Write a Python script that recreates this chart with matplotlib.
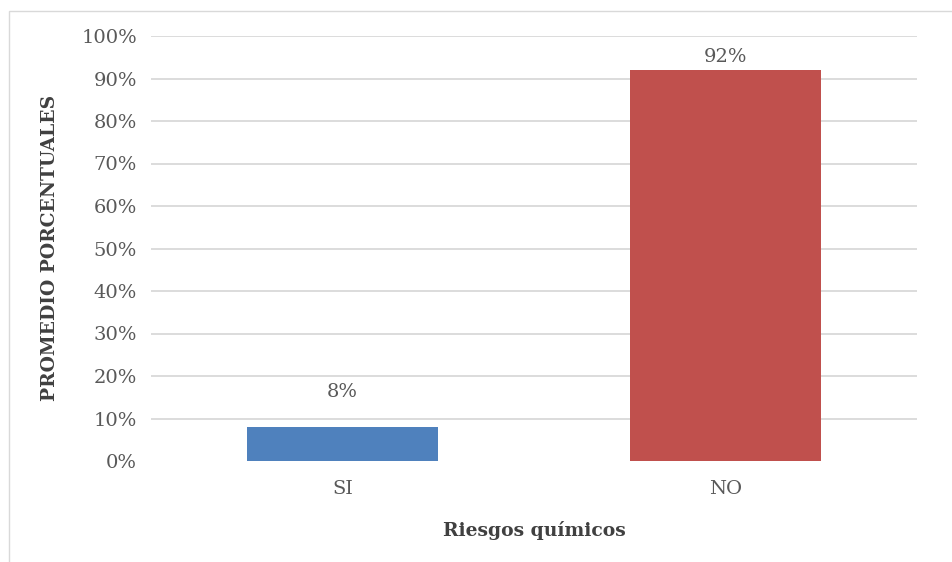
import matplotlib
import matplotlib.pyplot as plt
from matplotlib.patches import Rectangle

matplotlib.use("Agg")

# data
categories = ["SI", "NO"]
values = [8, 92]
labels = ["8%", "92%"]
colors = ["#4F81BD", "#C0504D"]
yticks = [0, 10, 20, 30, 40, 50, 60, 70, 80, 90, 100]
label_offsets = [8.2, 3.0]  # how far above the bar each data label sits

plt.rcParams["font.family"] = ["DejaVu Serif"]

fig = plt.figure(figsize=(9.53, 5.62), dpi=100)
W, H = 953, 562
ax = fig.add_axes([151 / W, 1 - 461 / H, (917 - 151) / W, (461 - 36) / H])

x = list(range(len(categories)))
bars = ax.bar(x, values, width=0.5, color=colors, zorder=3)

for b, lab, off in zip(bars, labels, label_offsets):
    ax.text(b.get_x() + b.get_width() / 2, b.get_height() + off, lab,
            ha="center", va="center", fontsize=14, color="#595959")

ax.set_xlim(-0.5, 1.5)
ax.set_ylim(0, 100)
ax.set_yticks(yticks)
ax.set_yticklabels([f"{t}%" for t in yticks], fontsize=14, color="#595959")
ax.set_xticks(x)
ax.set_xticklabels(categories, fontsize=14, color="#595959")
ax.tick_params(axis="y", length=0, pad=10)
ax.tick_params(axis="x", length=0, pad=14)

for t in yticks[1:]:
    ax.axhline(t, color="#D9D9D9", linewidth=1.3, zorder=0)

for s in ax.spines.values():
    s.set_visible(False)

fig.text(50 / W, 1 - 248 / H, "PROMEDIO PORCENTUALES", rotation=90,
         ha="center", va="center", fontsize=13.5, fontweight="bold", color="#404040")
fig.text(534 / W, 1 - 531 / H, "Riesgos químicos",
         ha="center", va="center", fontsize=13.5, fontweight="bold", color="#404040")

# light outer border (left and top visible)
fig.add_artist(Rectangle((9 / W, -0.1), 1.2, 1.1 - 11 / H,
                         transform=fig.transFigure, fill=False,
                         edgecolor="#D9D9D9", linewidth=1.0))

fig.savefig("out.png", dpi=100)
